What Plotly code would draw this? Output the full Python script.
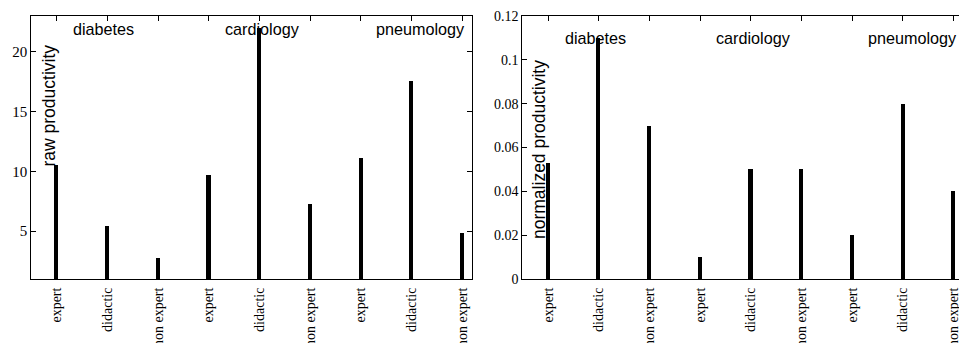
import plotly.graph_objects as go

categories = ["expert", "didactic", "non expert"] * 3
groups = ["diabetes", "cardiology", "pneumology"]
raw_productivity = [10.5, 5.45, 2.75, 9.7, 22.0, 7.3, 11.1, 17.6, 4.85]
normalized_productivity = [0.053, 0.11, 0.07, 0.01, 0.05, 0.05, 0.02, 0.08, 0.04]
raw_ticks = [5, 10, 15, 20]
norm_ticks = [0, 0.02, 0.04, 0.06, 0.08, 0.1, 0.12]
norm_ticktext = ["0", "0.02", "0.04", "0.06", "0.08", "0.1", "0.12"]

# the page body margin is removed by a post script, so the figure fills the window
W, H = 959, 343
idx = list(range(len(categories)))


def px_x(x):
    return x / W


def px_y(y):
    return 1 - y / H


fig = go.Figure()
fig.add_trace(go.Bar(x=idx, y=raw_productivity, width=0.08, marker=dict(color="black", line=dict(width=0)),
                     xaxis="x", yaxis="y", showlegend=False))
fig.add_trace(go.Bar(x=idx, y=normalized_productivity, width=0.08, marker=dict(color="black", line=dict(width=0)),
                     xaxis="x2", yaxis="y2", showlegend=False))

serif = "Liberation Serif, Times New Roman, serif"
sans = "Liberation Sans, Arial, Helvetica, sans-serif"

ydom = [px_y(279), px_y(16)]
common_x = dict(tickmode="array", tickvals=idx, ticktext=categories, tickangle=-90,
                ticks="inside", ticklen=5, tickcolor="black", showline=True, linecolor="black",
                linewidth=1, mirror="ticks", showgrid=False, zeroline=False, automargin=False,
                ticklabelstandoff=2, ticklabeloverflow="allow",
                tickfont=dict(family=serif, size=14, color="black"))
fig.update_layout(
    template="none",
    width=W, height=H, margin=dict(l=0, r=0, t=0, b=0, pad=0),
    paper_bgcolor="white", plot_bgcolor="white", bargap=0,
    xaxis=dict(domain=[px_x(31.3), px_x(471.5)], range=[-0.5, 8.18], anchor="y", **common_x),
    yaxis=dict(domain=ydom, range=[1, 23], anchor="x", tickmode="array", tickvals=raw_ticks,
               ticks="inside", ticklen=5, tickcolor="black", showline=True, linecolor="black",
               linewidth=1, mirror="ticks", showgrid=False, zeroline=False, automargin=False,
               tickfont=dict(family=serif, size=15, color="black")),
    xaxis2=dict(domain=[px_x(522.3), 1.0], range=[-0.507, 8.106], anchor="y2", **common_x),
    yaxis2=dict(domain=ydom, range=[0, 0.12], anchor="x2", tickmode="array", tickvals=norm_ticks,
                ticktext=norm_ticktext,
                ticks="inside", ticklen=5, tickcolor="black", showline=True, linecolor="black",
                linewidth=1, mirror=False, showgrid=False, zeroline=False, automargin=False,
                tickfont=dict(family=serif, size=14, color="black")),
)

ann = []
group_pos = [0.93, 4.05, 7.18]
for g, xp in zip(groups, group_pos):
    ann.append(dict(x=xp, y=21.9, xref="x", yref="y", text=g, showarrow=False,
                    font=dict(family=sans, size=16.2, color="black"), xanchor="center", yanchor="middle"))
for g, xp in zip(groups, group_pos):
    ann.append(dict(x=xp, y=0.11, xref="x2", yref="y2", text=g, showarrow=False,
                    font=dict(family=sans, size=16.2, color="black"), xanchor="center", yanchor="middle"))
ann.append(dict(x=px_x(49), y=px_y(105.5), xref="paper", yref="paper", text="raw productivity",
                textangle=-90, showarrow=False, font=dict(family=sans, size=17.5, color="black"),
                xanchor="center", yanchor="middle"))
ann.append(dict(x=px_x(539), y=px_y(150), xref="paper", yref="paper", text="normalized productivity",
                textangle=-90, showarrow=False, font=dict(family=sans, size=17.5, color="black"),
                xanchor="center", yanchor="middle"))
fig.update_layout(annotations=ann)

fig.write_html("out.html", config={"displayModeBar": False},
               post_script="document.body.style.margin='0';document.body.style.overflow='hidden';")
